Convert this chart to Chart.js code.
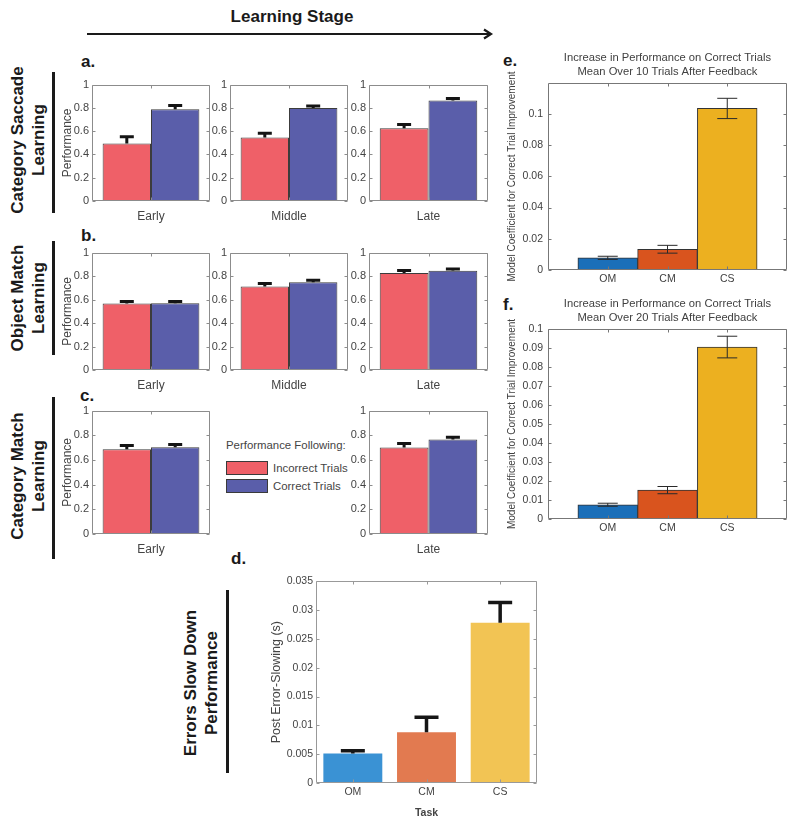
<!DOCTYPE html>
<html>
<head>
<meta charset="utf-8">
<title>Performance following feedback across learning</title>
<script src="https://cdn.jsdelivr.net/npm/chart.js@4.4.1/dist/chart.umd.min.js"></script>
<style>
html,body{margin:0;padding:0;background:#fff;}
body{position:relative;width:800px;height:825px;overflow:hidden;font-family:'Liberation Sans',Arial,Helvetica,sans-serif;}
canvas{position:absolute;}
.t{position:absolute;white-space:nowrap;}
.panel{font-weight:bold;font-size:17px;color:#1a1a1a;transform:translateY(-50%);}
.row{font-weight:bold;font-size:17px;line-height:21px;color:#1a1a1a;text-align:center;transform:translate(-50%,-50%) rotate(-90deg);}
.vbar{position:absolute;background:#1a1a1a;width:3px;}
.leg{font-size:11.4px;color:#444;transform:translateY(-50%);}
.sw{position:absolute;box-sizing:border-box;border:1px solid #3a3a3a;}
</style>
</head>
<body>
<div class="t" style="left:292px;top:17px;transform:translate(-50%,-50%);font-weight:bold;font-size:17px;color:#1a1a1a;">Learning Stage</div>
<svg style="position:absolute;left:0;top:0" width="800" height="50">
  <line x1="87" y1="34" x2="490" y2="34" stroke="#1a1a1a" stroke-width="2.2"/>
  <polyline points="484,29.5 491,34 484,38.5" fill="none" stroke="#1a1a1a" stroke-width="2.2"/>
</svg>

<div class="t panel" style="left:81px;top:62px">a.</div>
<div class="t panel" style="left:81px;top:236px">b.</div>
<div class="t panel" style="left:80px;top:396px">c.</div>
<div class="t panel" style="left:231px;top:559px">d.</div>
<div class="t panel" style="left:503px;top:61px">e.</div>
<div class="t panel" style="left:503px;top:305px">f.</div>

<div class="t row" style="left:28px;top:140px">Category Saccade<br>Learning</div>
<div class="vbar" style="left:52px;top:72px;height:141px"></div>
<div class="t row" style="left:28px;top:298px">Object Match<br>Learning</div>
<div class="vbar" style="left:52px;top:241px;height:114px"></div>
<div class="t row" style="left:28px;top:476px">Category Match<br>Learning</div>
<div class="vbar" style="left:52px;top:397px;height:162px"></div>
<div class="t row" style="left:201px;top:683px">Errors Slow Down<br>Performance</div>
<div class="vbar" style="left:226px;top:590px;height:183px"></div>

<div class="t leg" style="left:226px;top:445px">Performance Following:</div>
<div class="sw" id="swInc" style="left:226px;top:461px;width:42px;height:14px"></div>
<div class="t leg" id="legInc" style="left:273px;top:468px"></div>
<div class="sw" id="swCor" style="left:226px;top:479px;width:42px;height:14px"></div>
<div class="t leg" id="legCor" style="left:273px;top:486px"></div>

<script>
// ---------------- DATA ----------------
const seriesNames = ['Incorrect Trials', 'Correct Trials'];
const stages3 = ['Early', 'Middle', 'Late'];
const stages2 = ['Early', 'Late'];
const perfTicks = [0, 0.2, 0.4, 0.6, 0.8, 1];

// a. Category Saccade Learning
const saccIncorrect    = [0.493, 0.545, 0.625];
const saccIncorrectErr = [0.059, 0.038, 0.033];
const saccCorrect      = [0.789, 0.800, 0.863];
const saccCorrectErr   = [0.031, 0.016, 0.017];

// b. Object Match Learning
const objIncorrect    = [0.567, 0.711, 0.826];
const objIncorrectErr = [0.016, 0.025, 0.022];
const objCorrect      = [0.569, 0.747, 0.846];
const objCorrectErr   = [0.014, 0.017, 0.014];

// c. Category Match Learning
const catIncorrect    = [0.686, 0.700];
const catIncorrectErr = [0.032, 0.034];
const catCorrect      = [0.702, 0.766];
const catCorrectErr   = [0.024, 0.019];

// d. Post error slowing
const tasks = ['OM', 'CM', 'CS'];
const pesValues = [0.0051, 0.0088, 0.0278];
const pesErr    = [0.0005, 0.0026, 0.0035];

// e. Mean over 10 trials
const coef10    = [0.0078, 0.0133, 0.1035];
const coef10Err = [0.0010, 0.0025, 0.0065];

// f. Mean over 20 trials
const coef20    = [0.0075, 0.0152, 0.0905];
const coef20Err = [0.0008, 0.0019, 0.0057];

// ---------------- STYLE ----------------
const RED = '#EF6068', BLUE = '#5A5EAA', EDGE = '#3c3c3c';
const taskColorsEF = ['#1B6FB9', '#D9541E', '#ECB020'];
const taskColorsD  = ['#3A92D4', '#E27A50', '#F2C454'];
const FONT = "'Liberation Sans', Arial, Helvetica, sans-serif";
Chart.defaults.font.family = FONT;
Chart.defaults.color = '#444';
Chart.defaults.animation = false;

document.getElementById('swInc').style.background = RED;
document.getElementById('swCor').style.background = BLUE;
document.getElementById('legInc').textContent = seriesNames[0];
document.getElementById('legCor').textContent = seriesNames[1];

const fmt = v => String(+Number(v).toFixed(4));

// error bar plugin
const errPlugin = {
  id: 'errbars',
  afterDatasetsDraw(chart, args, o) {
    if (!o || !o.errors) return;
    const {ctx} = chart; const y = chart.scales.y;
    ctx.save();
    ctx.strokeStyle = o.color; ctx.lineWidth = o.width; ctx.lineCap = 'butt';
    chart.data.datasets.forEach((ds, di) => {
      const meta = chart.getDatasetMeta(di);
      const errs = o.errors[di];
      meta.data.forEach((bar, i) => {
        const v = ds.data[i]; const e = errs[i];
        if (v == null || e == null) return;
        const x = bar.x;
        const yt = y.getPixelForValue(v + e);
        const yb = o.both ? y.getPixelForValue(v - e) : y.getPixelForValue(v);
        const h = o.cap / 2;
        ctx.beginPath();
        ctx.moveTo(x, yb); ctx.lineTo(x, yt);
        ctx.moveTo(x - h, yt); ctx.lineTo(x + h, yt);
        if (o.both) { ctx.moveTo(x - h, yb); ctx.lineTo(x + h, yb); }
        ctx.stroke();
      });
    });
    ctx.restore();
  }
};

// MATLAB-like box with inner ticks
const boxPlugin = {
  id: 'matBox',
  afterDraw(chart, args, o) {
    if (!o || !o.color) return;
    const {ctx, chartArea: a} = chart; const x = chart.scales.x, y = chart.scales.y;
    const L = Math.round(a.left) + 0.5, R = Math.round(a.right) - 0.5;
    const T = Math.round(a.top) + 0.5, B = Math.round(a.bottom) - 0.5;
    const tl = o.tickLen || 3;
    ctx.save();
    ctx.strokeStyle = o.color; ctx.lineWidth = 1;
    ctx.beginPath();
    ctx.rect(L, T, R - L, B - T);
    y.ticks.forEach(t => {
      const py = Math.round(y.getPixelForValue(t.value)) + 0.5;
      ctx.moveTo(L, py); ctx.lineTo(L + tl, py);
      ctx.moveTo(R, py); ctx.lineTo(R - tl, py);
    });
    (o.xTicks || []).forEach(i => {
      const px = Math.round(x.getPixelForValue(i)) + 0.5;
      ctx.moveTo(px, B); ctx.lineTo(px, B - tl);
      ctx.moveTo(px, T); ctx.lineTo(px, T + tl);
    });
    ctx.stroke();
    ctx.restore();
  }
};

function makeCanvas(plot, m) {
  const c = document.createElement('canvas');
  const w = (plot[2] - plot[0]) + m.L + m.R;
  const h = (plot[3] - plot[1]) + m.T + m.B;
  c.width = w; c.height = h;
  c.style.left = (plot[0] - m.L) + 'px';
  c.style.top = (plot[1] - m.T) + 'px';
  c.style.width = w + 'px'; c.style.height = h + 'px';
  document.body.appendChild(c);
  return c;
}

// grouped learning-stage chart (a, b, c)
function stageChart(plot, stage, inc, incErr, cor, corErr, showTitle) {
  const m = {L: 32, T: 8, R: 4, B: 28};
  const canvas = makeCanvas(plot, m);
  const barCommon = {borderColor: EDGE, borderWidth: 1, borderSkipped: false, categoryPercentage: 0.82, barPercentage: 1};
  new Chart(canvas, {
    type: 'bar',
    data: {
      labels: [stage],
      datasets: [
        Object.assign({label: seriesNames[0], data: [inc], backgroundColor: RED}, barCommon),
        Object.assign({label: seriesNames[1], data: [cor], backgroundColor: BLUE}, barCommon)
      ]
    },
    options: {
      responsive: false, animation: false,
      layout: {padding: {top: m.T, right: m.R, left: 0, bottom: 0}},
      plugins: {
        legend: {display: false}, tooltip: {enabled: false},
        errbars: {errors: [[incErr], [corErr]], color: '#141414', width: 3, cap: 14, both: false},
        matBox: {color: '#8c8c8c', xTicks: [0], tickLen: 3}
      },
      scales: {
        x: {grid: {display: false, drawTicks: false}, border: {display: false},
            ticks: {padding: 8, color: '#444', font: {size: 12}},
            afterFit(s) { s.height = m.B; }},
        y: {min: 0, max: 1, grid: {display: false, drawTicks: false}, border: {display: false},
            afterBuildTicks(s) { s.ticks = perfTicks.map(v => ({value: v})); },
            ticks: {padding: 3, color: '#444', font: {size: 11}, callback: fmt},
            title: {display: showTitle, text: 'Performance', color: '#444', font: {size: 12}, padding: 0},
            afterFit(s) { s.width = m.L; }}
      }
    },
    plugins: [errPlugin, boxPlugin]
  });
}

const colX = [[92, 210], [230, 348], [369, 488]];
const rowA = [83, 201], rowB = [251, 370], rowC = [409, 534];

stages3.forEach((s, i) => {
  stageChart([colX[i][0], rowA[0], colX[i][1], rowA[1]], s, saccIncorrect[i], saccIncorrectErr[i], saccCorrect[i], saccCorrectErr[i], i === 0);
  stageChart([colX[i][0], rowB[0], colX[i][1], rowB[1]], s, objIncorrect[i], objIncorrectErr[i], objCorrect[i], objCorrectErr[i], i === 0);
});
const colC = [0, 2];
stages2.forEach((s, i) => {
  const c = colX[colC[i]];
  stageChart([c[0], rowC[0], c[1], rowC[1]], s, catIncorrect[i], catIncorrectErr[i], catCorrect[i], catCorrectErr[i], i === 0);
});

// e / f coefficient charts
function coefChart(plot, titleLines, values, errs, yMax, step) {
  const m = {L: 42, T: 32, R: 6, B: 20};
  const canvas = makeCanvas(plot, m);
  const pad = a => [null, ...a, null];
  new Chart(canvas, {
    type: 'bar',
    data: {
      labels: ['', ...tasks, ''],
      datasets: [{
        label: 'Model coefficient',
        data: pad(values),
        backgroundColor: ['rgba(0,0,0,0)', ...taskColorsEF, 'rgba(0,0,0,0)'],
        borderColor: '#333', borderWidth: 1, borderSkipped: false,
        categoryPercentage: 1, barPercentage: 1
      }]
    },
    options: {
      responsive: false, animation: false,
      layout: {padding: {top: 0, right: m.R, left: 0, bottom: 0}},
      plugins: {
        legend: {display: false}, tooltip: {enabled: false},
        title: {display: true, text: titleLines, fullSize: false, color: '#404040',
                font: {size: 11.2, weight: 'normal', lineHeight: 14 / 11.2}, padding: {top: 0, bottom: 4}},
        errbars: {errors: [pad(errs)], color: '#2a2a2a', width: 1, cap: 20, both: true},
        matBox: {color: '#777', xTicks: [1, 2, 3], tickLen: 3}
      },
      scales: {
        x: {offset: false, grid: {display: false, drawTicks: false}, border: {display: false},
            ticks: {padding: 3, color: '#404040', font: {size: 10.5}, autoSkip: false, maxRotation: 0},
            afterFit(s) { s.height = m.B; }},
        y: {min: 0, max: yMax, grid: {display: false, drawTicks: false}, border: {display: false},
            ticks: {stepSize: step, includeBounds: false, padding: 5, color: '#404040', font: {size: 10.5}, callback: fmt},
            title: {display: true, text: 'Model Coefficient for Correct Trial Improvement', color: '#404040', font: {size: 10}, padding: 0},
            afterFit(s) { s.width = m.L; }}
      }
    },
    plugins: [errPlugin, boxPlugin]
  });
}

coefChart([548, 83, 787, 270], ['Increase in Performance on Correct Trials', 'Mean Over 10 Trials After Feedback'], coef10, coef10Err, 0.1198, 0.02);
coefChart([548, 329, 787, 519], ['Increase in Performance on Correct Trials', 'Mean Over 20 Trials After Feedback'], coef20, coef20Err, 0.1, 0.01);

// d. post-error slowing
(function () {
  const plot = [316, 580, 537, 783];
  const m = {L: 47, T: 8, R: 4, B: 36};
  const canvas = makeCanvas(plot, m);
  new Chart(canvas, {
    type: 'bar',
    data: {
      labels: tasks,
      datasets: [{label: 'Post Error-Slowing', data: pesValues, backgroundColor: taskColorsD,
                  borderWidth: 0, categoryPercentage: 0.8, barPercentage: 1}]
    },
    options: {
      responsive: false, animation: false,
      layout: {padding: {top: m.T, right: m.R, left: 0, bottom: 0}},
      plugins: {
        legend: {display: false}, tooltip: {enabled: false},
        errbars: {errors: [pesErr], color: '#161616', width: 3.5, cap: 24, both: false},
        matBox: {color: '#999', xTicks: [0, 1, 2], tickLen: 3}
      },
      scales: {
        x: {grid: {display: false, drawTicks: false}, border: {display: false},
            ticks: {padding: 3, color: '#444', font: {size: 10.5}},
            title: {display: true, text: 'Task', color: '#444', font: {size: 10.5, weight: 'bold'}, padding: 0},
            afterFit(s) { s.height = m.B; }},
        y: {min: 0, max: 0.035, grid: {display: false, drawTicks: false}, border: {display: false},
            ticks: {stepSize: 0.005, padding: 3, color: '#444', font: {size: 10.5}, callback: fmt},
            title: {display: true, text: 'Post Error-Slowing (s)', color: '#444', font: {size: 12.5}, padding: 0},
            afterFit(s) { s.width = m.L; }}
      }
    },
    plugins: [errPlugin, boxPlugin]
  });
})();
</script>
</body>
</html>
